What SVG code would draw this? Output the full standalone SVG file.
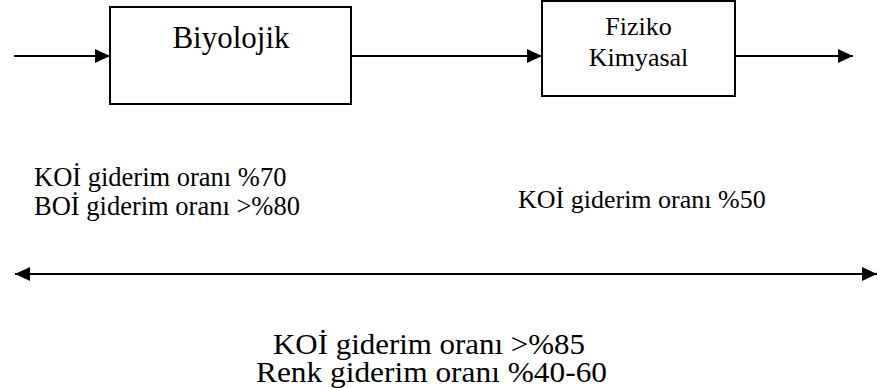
<svg xmlns="http://www.w3.org/2000/svg" width="878" height="388" viewBox="0 0 878 388">
<style>
.box{fill:#fff;stroke:#000;stroke-width:2}
.ln{stroke:#000;stroke-width:2;fill:none}
text{fill:#000}
</style>
<defs>
<marker id="ah" viewBox="0 0 15 14" refX="15" refY="7" markerWidth="15" markerHeight="14" markerUnits="userSpaceOnUse" orient="auto-start-reverse">
<path d="M0,0 L15,7 L0,14 Z" fill="#000"/>
</marker>
</defs>
<rect width="878" height="388" fill="#fff"/>
<g id="connectors">
<line class="ln" x1="14" y1="56" x2="110" y2="56" marker-end="url(#ah)"/>
<line class="ln" x1="351" y1="56" x2="542" y2="56" marker-end="url(#ah)"/>
<line class="ln" x1="735" y1="56" x2="853" y2="56" marker-end="url(#ah)"/>
<line class="ln" x1="15" y1="274" x2="877" y2="274" stroke-width="2.5" marker-start="url(#ah)" marker-end="url(#ah)"/>
</g>
<g font-family="Liberation Serif, 'DejaVu Serif', serif">
<g id="biyolojik">
<rect class="box" x="110" y="7" width="241" height="97"/>
<text x="231" y="48" font-size="31" text-anchor="middle">Biyolojik</text>
</g>
<g id="fiziko-kimyasal">
<rect class="box" x="542" y="1" width="193" height="95"/>
<text x="638.5" y="35" font-size="26" text-anchor="middle">Fiziko</text>
<text x="638.5" y="66" font-size="26" text-anchor="middle">Kimyasal</text>
</g>
<g id="labels">
<text x="34" y="186" font-size="26.5">KOİ giderim oranı %70</text>
<text x="34" y="215" font-size="26.5">BOİ giderim oranı &gt;%80</text>
<text x="518" y="208" font-size="26">KOİ giderim oranı %50</text>
<text x="273" y="354" font-size="30" textLength="312" lengthAdjust="spacingAndGlyphs">KOİ giderim oranı &gt;%85</text>
<text x="256" y="382" font-size="30" textLength="351" lengthAdjust="spacingAndGlyphs">Renk giderim oranı %40-60</text>
</g>
</g>
</svg>
